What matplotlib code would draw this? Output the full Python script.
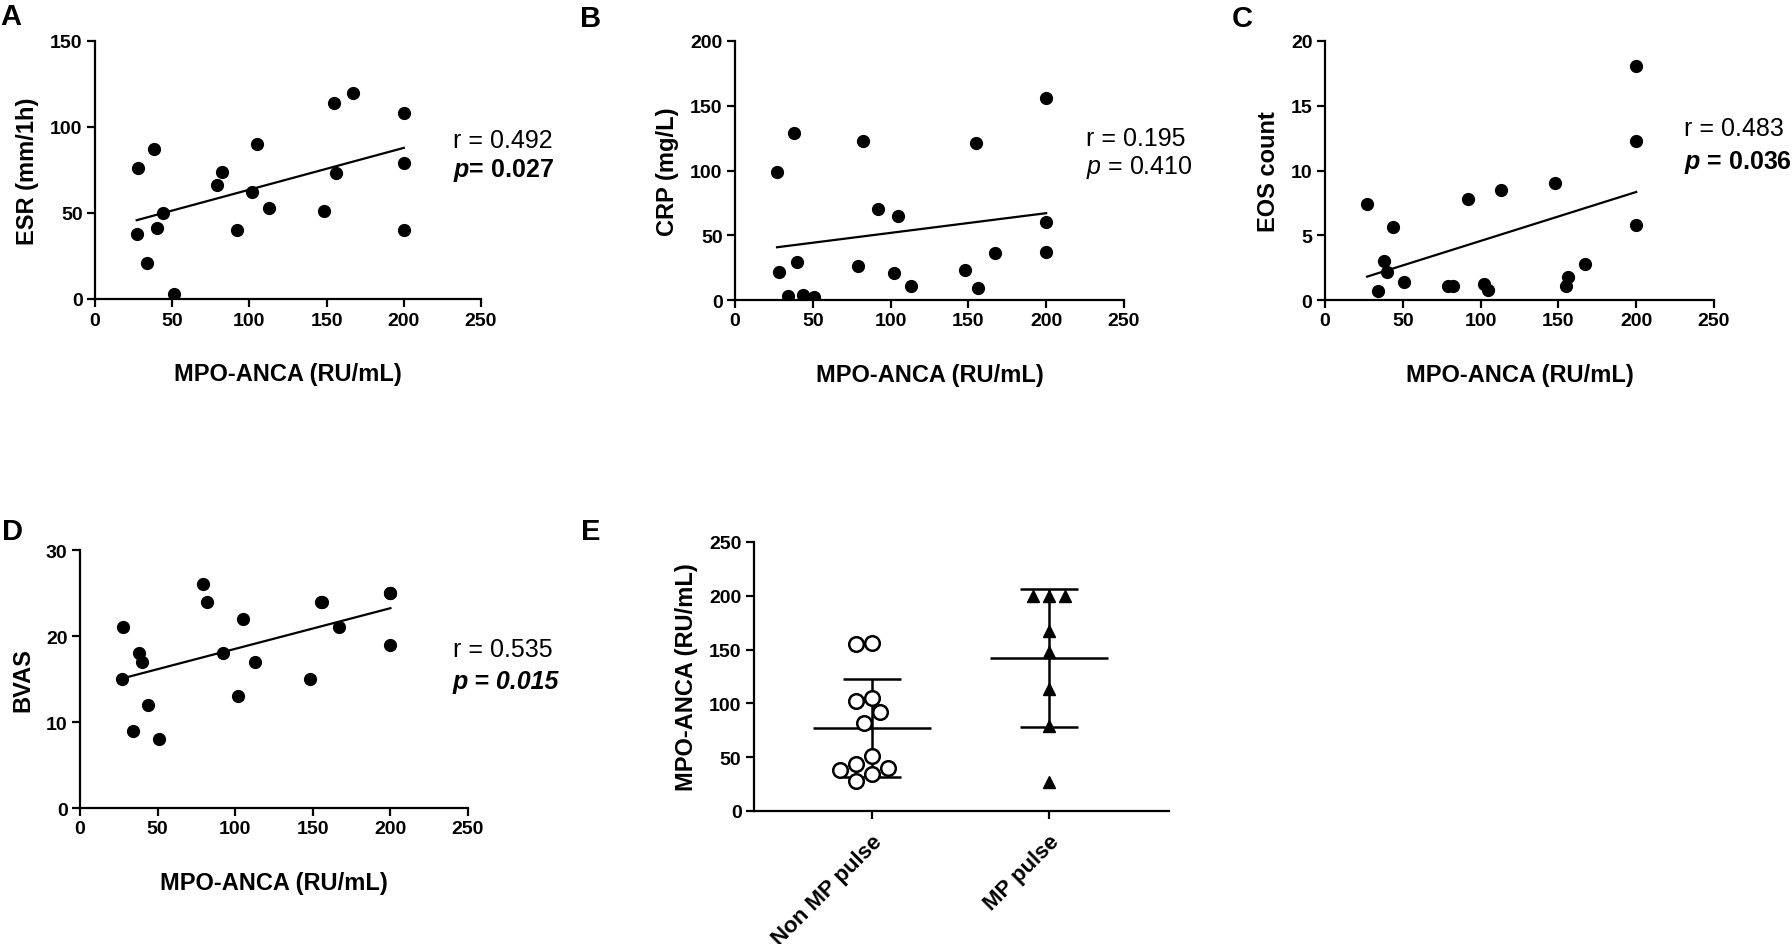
import numpy as np
import matplotlib
matplotlib.use('Agg')
import matplotlib.pyplot as plt

# MPO-ANCA of the 20 patients (x of panels A-D)
mpo = [27, 28, 34, 38, 40, 44, 51, 79, 82, 92, 102, 105, 113, 148, 155, 156, 167, 200, 200, 200]
esr = [38, 76, 21, 87, 41, 50, 3, 66, 74, 40, 62, 90, 53, 51, 114, 73, 120, 108, 79, 40]
crp = [99, 22, 3, 129, 29, 4, 2, 26, 123, 70, 21, 65, 11, 23, 121, 9, 36, 156, 60, 37]
eos = [7.4, np.nan, 0.7, 3.0, 2.2, 5.6, 1.4, 1.1, 1.1, 7.8, 1.2, 0.8, 8.5, 9.0, 1.1, 1.8, 2.8, 18.1, 12.3, 5.8]
bvas = [15, 21, 9, 18, 17, 12, 8, 26, 24, 18, 13, 22, 17, 15, 24, 24, 21, 25, 25, 19]

# panel E groups
groups = ['Non MP pulse', 'MP pulse']
non_mp = [156, 155, 105, 102, 92, 82, 51, 44, 40, 38, 34, 28]
mp = [200, 200, 200, 167, 148, 113, 79, 27]

r_vals = ['0.492', '0.195', '0.483', '0.535']
p_vals = ['0.027', '0.410', '0.036', '0.015']

plt.rcParams['font.family'] = ['Liberation Sans', 'DejaVu Sans']
plt.rcParams['font.weight'] = 'bold'
plt.rcParams['axes.labelweight'] = 'bold'
plt.rcParams['mathtext.fontset'] = 'custom'
plt.rcParams['mathtext.rm'] = 'Liberation Sans:normal'
plt.rcParams['mathtext.it'] = 'Liberation Sans:italic:normal'
plt.rcParams['mathtext.bf'] = 'Liberation Sans:bold'
plt.rcParams['mathtext.bfit'] = 'Liberation Sans:italic:bold'

W, H = 1792, 945
fig = plt.figure(figsize=(W / 100, H / 100), dpi=100)


def box(left, top, right, bottom):
    return [left / W, 1 - bottom / H, (right - left) / W, (bottom - top) / H]


def style_axes(ax):
    for s in ['top', 'right']:
        ax.spines[s].set_visible(False)
    for s in ['left', 'bottom']:
        ax.spines[s].set_linewidth(1.6)
    ax.tick_params(direction='out', length=6, width=1.6, labelsize=14, pad=3)


def scatter_panel(ax, y, ymax, ystep, ylabel):
    x = np.array(mpo, dtype=float)
    y = np.array(y, dtype=float)
    ok = ~np.isnan(y)
    x, y = x[ok], y[ok]
    ax.plot(x, y, 'o', color='black', markersize=8.5, zorder=3)
    slope, icpt = np.polyfit(x, y, 1)
    xs = np.array([x.min(), x.max()])
    ax.plot(xs, slope * xs + icpt, color='black', lw=1.6)
    ax.set_xlim(0, 250)
    ax.set_ylim(0, ymax)
    ax.set_xticks(np.arange(0, 251, 50))
    ax.set_yticks(np.arange(0, ymax + 1, ystep))
    ax.set_xlabel('MPO-ANCA (RU/mL)', fontsize=17, labelpad=24)
    ax.set_ylabel(ylabel, fontsize=17, labelpad=8)
    style_axes(ax)


axA = fig.add_axes(box(95, 42, 481, 300))
scatter_panel(axA, esr, 150, 50, 'ESR (mm/1h)')
axB = fig.add_axes(box(735, 42, 1124, 301))
scatter_panel(axB, crp, 200, 50, 'CRP (mg/L)')
axC = fig.add_axes(box(1325, 42, 1714, 301))
scatter_panel(axC, eos, 20, 5, 'EOS count')
axD = fig.add_axes(box(80, 551, 468, 809))
scatter_panel(axD, bvas, 30, 10, 'BVAS')

fs = 18
axA.text(0.927, 0.616, 'r = ' + r_vals[0], transform=axA.transAxes, fontsize=fs,
         fontweight='normal', va='center', ha='left')
axA.text(0.927, 0.500, r'$\mathbfit{p}$= ' + p_vals[0], transform=axA.transAxes, fontsize=fs,
         fontweight='bold', va='center', ha='left')
axB.text(0.902, 0.625, 'r = ' + r_vals[1], transform=axB.transAxes, fontsize=fs,
         fontweight='normal', va='center', ha='left')
axB.text(0.902, 0.515, r'$\mathit{p}$ = ' + p_vals[1], transform=axB.transAxes, fontsize=fs,
         fontweight='normal', va='center', ha='left')
axC.text(0.923, 0.664, 'r = ' + r_vals[2], transform=axC.transAxes, fontsize=fs,
         fontweight='normal', va='center', ha='left')
axC.text(0.923, 0.533, r'$\mathbfit{p}$ = ' + p_vals[2], transform=axC.transAxes, fontsize=fs,
         fontweight='bold', va='center', ha='left')
axD.text(0.961, 0.616, 'r = ' + r_vals[3], transform=axD.transAxes, fontsize=fs,
         fontweight='normal', va='center', ha='left')
axD.text(0.961, 0.492, 'p = ' + p_vals[3], transform=axD.transAxes, fontsize=fs,
         fontweight='bold', style='italic', va='center', ha='left')

# panel E
axE = fig.add_axes(box(754, 543, 1169, 812))
axE.set_xlim(-0.667, 1.678)
axE.set_ylim(0, 250)
axE.set_yticks(np.arange(0, 251, 50))
axE.set_xticks([0, 1])
axE.set_xticklabels(groups, rotation=45, ha='right', rotation_mode='anchor', fontsize=16)
axE.set_ylabel('MPO-ANCA (RU/mL)', fontsize=17, labelpad=8)
style_axes(axE)
axE.tick_params(axis='x', labelsize=16, pad=8)


def swarm_x(ax, xc, vals, d_px):
    # simple beeswarm: place each point at the nearest free slot
    placed = []
    offs = []
    step = d_px / 2
    cands = [0.0]
    for i in range(1, 20):
        cands += [-i * step, i * step]
    for v in vals:
        py = ax.transData.transform((xc, v))[1]
        for c in cands:
            if all((c - ox) ** 2 + (py - oy) ** 2 >= (0.95 * d_px) ** 2 for ox, oy in placed):
                break
        placed.append((c, py))
        offs.append(c)
    unit = ax.transData.transform((1, 0))[0] - ax.transData.transform((0, 0))[0]
    return xc + np.array(offs) / unit


for i, vals in enumerate([non_mp, mp]):
    m = np.mean(vals)
    s = np.std(vals, ddof=1)
    axE.hlines(m, i - 0.333, i + 0.333, color='black', lw=1.8, zorder=2)
    axE.vlines(i, m - s, m + s, color='black', lw=1.8, zorder=2)
    axE.hlines([m - s, m + s], i - 0.165, i + 0.165, color='black', lw=1.8, zorder=2)

xs0 = swarm_x(axE, 0, non_mp, 16)
axE.plot(xs0, non_mp, 'o', mfc='white', mec='black', mew=1.8, ms=10.5, zorder=3, clip_on=False)
xs1 = swarm_x(axE, 1, mp, 16)
axE.plot(xs1, mp, '^', color='black', ms=9, zorder=3, clip_on=False)

# panel letters
for lab, x, y in [('A', 0, 3), ('B', 580, 5), ('C', 1232, 5), ('D', 2, 518), ('E', 581, 518)]:
    fig.text(x / W, 1 - y / H, lab, fontsize=21, fontweight='bold', ha='left', va='top')

fig.savefig('out.png', dpi=100)
